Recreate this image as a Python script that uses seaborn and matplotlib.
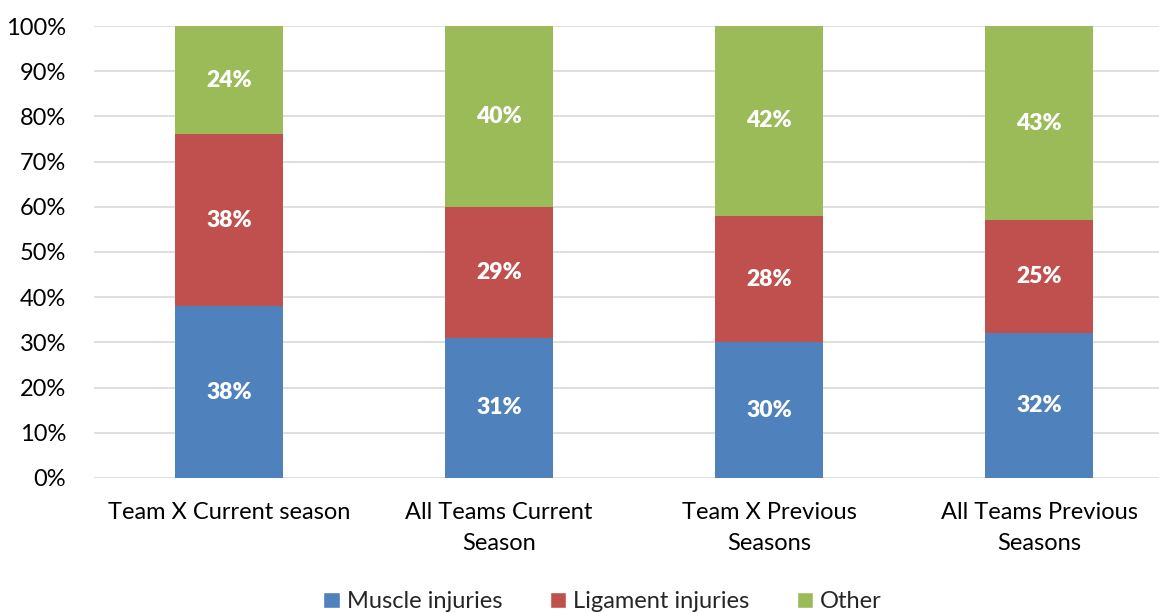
import pandas as pd
import numpy as np
import seaborn as sns
import matplotlib.pyplot as plt
from matplotlib.patches import Patch
from matplotlib.ticker import PercentFormatter

categories = ['Team X Current season', 'All Teams Current\nSeason',
              'Team X Previous\nSeasons', 'All Teams Previous\nSeasons']
muscle = [38, 31, 30, 32]
ligament = [38, 29, 28, 25]
other = [24, 40, 42, 43]
series_names = ['Muscle injuries', 'Ligament injuries', 'Other']
colors = ['#4F81BD', '#C0504D', '#9BBB59']

df = pd.DataFrame({'cat': categories, 'Muscle injuries': muscle,
                   'Ligament injuries': ligament, 'Other': other})

sns.set_style('white')
plt.rcParams['font.family'] = ['Lato', 'DejaVu Sans']

fig = plt.figure(figsize=(11.59, 6.12), dpi=100)
ax = fig.add_axes([0.0811, 0.219, 0.932, 0.7385])

bottom = np.zeros(len(categories))
for name, col in zip(series_names, colors):
    vals = df[name].to_numpy(dtype=float)
    sns.barplot(data=df, x='cat', y=name, color=col, bottom=bottom,
                width=0.4, ax=ax, saturation=1, linewidth=0, zorder=3)
    for i, v in enumerate(vals):
        ax.text(i, bottom[i] + v / 2, f'{v:.0f}%', ha='center', va='center',
                color='white', fontsize=16.5, fontweight='heavy', zorder=4)
    bottom = bottom + vals

ax.set_xlim(-0.5, 3.5)
ax.set_ylim(0, 100)
ax.set_yticks(range(0, 101, 10))
ax.yaxis.set_major_formatter(PercentFormatter(decimals=0))
ax.grid(axis='y', color='#D9D9D9', linewidth=1.2, zorder=0)
ax.set_axisbelow(True)
for s in ax.spines.values():
    s.set_visible(False)
ax.set_xlabel('')
ax.set_ylabel('')
ax.tick_params(axis='both', length=0, labelsize=17, colors='black')
ax.tick_params(axis='y', pad=20)
ax.tick_params(axis='x', pad=17)
for lbl in ax.get_xticklabels():
    lbl.set_linespacing(1.6)

handles = [Patch(facecolor=c, label=n) for n, c in zip(series_names, colors)]
fig.legend(handles=handles, loc='lower center', bbox_to_anchor=(0.52, -0.035),
           ncol=3, frameon=False, fontsize=17, handlelength=0.7,
           handleheight=0.7, handletextpad=0.3, columnspacing=2.0)

fig.savefig('out.png', dpi=100)
